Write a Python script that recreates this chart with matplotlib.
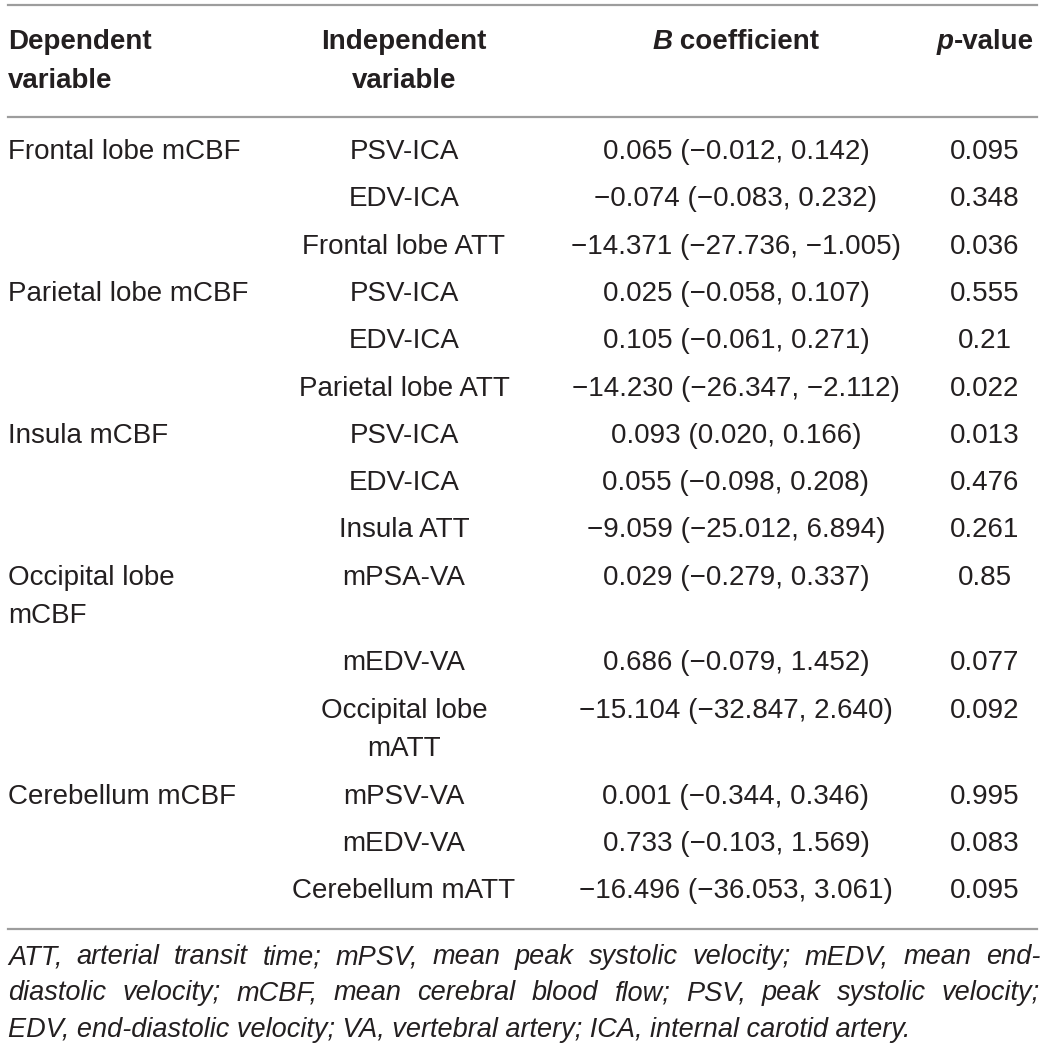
import matplotlib
matplotlib.use("Agg")
import matplotlib.pyplot as plt

# table content
dependent = [
    "Frontal lobe mCBF", "", "",
    "Parietal lobe mCBF", "", "",
    "Insula mCBF", "", "",
    "Occipital lobe\nmCBF", "", "",
    "Cerebellum mCBF", "", "",
]
independent = [
    "PSV-ICA", "EDV-ICA", "Frontal lobe ATT",
    "PSV-ICA", "EDV-ICA", "Parietal lobe ATT",
    "PSV-ICA", "EDV-ICA", "Insula ATT",
    "mPSA-VA", "mEDV-VA", "Occipital lobe\nmATT",
    "mPSV-VA", "mEDV-VA", "Cerebellum mATT",
]
b_coef = [0.065, -0.074, -14.371, 0.025, 0.105, -14.230, 0.093, 0.055, -9.059,
          0.029, 0.686, -15.104, 0.001, 0.733, -16.496]
ci_low = [-0.012, -0.083, -27.736, -0.058, -0.061, -26.347, 0.020, -0.098, -25.012,
          -0.279, -0.079, -32.847, -0.344, -0.103, -36.053]
ci_high = [0.142, 0.232, -1.005, 0.107, 0.271, -2.112, 0.166, 0.208, 6.894,
           0.337, 1.452, 2.640, 0.346, 1.569, 3.061]
p_values = ["0.095", "0.348", "0.036", "0.555", "0.21", "0.022", "0.013", "0.476", "0.261",
            "0.85", "0.077", "0.092", "0.995", "0.083", "0.095"]

footnote = ("ATT, arterial transit time; mPSV, mean peak systolic velocity; mEDV, mean end-\n"
            "diastolic velocity; mCBF, mean cerebral blood flow; PSV, peak systolic velocity;\n"
            "EDV, end-diastolic velocity; VA, vertebral artery; ICA, internal carotid artery.")

FONT = "Liberation Sans"
TXT = "#231f20"
RULE = "#9d9d9d"
FS = 20

W, H = 1045, 1052
fig = plt.figure(figsize=(W / 100, H / 100), dpi=100)
ax = fig.add_axes([0, 0, 1, 1])
ax.set_xlim(0, W)
ax.set_ylim(H, 0)
ax.axis("off")
fig.canvas.draw()
renderer = fig.canvas.get_renderer()


def fmt(v):
    return f"{v:.3f}".replace("-", "\u2212")


def text_width(s, size=FS, **kw):
    t = ax.text(0, 0, s, fontsize=size, family=FONT, **kw)
    bb = t.get_window_extent(renderer=renderer)
    t.remove()
    return bb.width


def put(x, y, s, ha="center", **kw):
    kw.setdefault("fontsize", FS)
    ax.text(x, y, s, family=FONT, color=TXT, va="center", ha=ha, **kw)


def segments(x, y, parts):
    # parts: list of (text, weight, style); centered at x
    widths = [text_width(s, fontweight=w, fontstyle=st) for s, w, st in parts]
    cx = x - sum(widths) / 2
    for (s, w, st), wd in zip(parts, widths):
        put(cx, y, s, ha="left", fontweight=w, fontstyle=st)
        cx += wd


x_dep, x_ind, x_b, x_p = 8, 404, 736, 985
line_gap = 38.5
row_gap = 47.3
rule_x = [8, 1037]

# rules
ax.plot(rule_x, [5, 5], color=RULE, lw=1.6)
ax.plot(rule_x, [117, 117], color=RULE, lw=1.6)

# header
hy = 42
put(x_dep, hy, "Dependent", ha="left", fontweight="bold")
put(x_dep, hy + line_gap, "variable", ha="left", fontweight="bold")
put(x_ind, hy, "Independent", fontweight="bold")
put(x_ind, hy + line_gap, "variable", fontweight="bold")
segments(x_b, hy, [("B", "bold", "italic"), (" coefficient", "bold", "normal")])
segments(x_p, hy, [("p", "bold", "italic"), ("-value", "bold", "normal")])

y = 152
for i in range(len(independent)):
    nlines = max(dependent[i].count("\n"), independent[i].count("\n")) + 1
    for k, ln in enumerate(dependent[i].split("\n")):
        if ln:
            put(x_dep, y + k * line_gap, ln, ha="left")
    for k, ln in enumerate(independent[i].split("\n")):
        put(x_ind, y + k * line_gap, ln)
    coef = f"{fmt(b_coef[i])} ({fmt(ci_low[i])}, {fmt(ci_high[i])})"
    put(x_b, y, coef)
    put(x_p, y, p_values[i])
    y += row_gap + (nlines - 1) * line_gap

ax.plot(rule_x, [929, 929], color=RULE, lw=1.6)

# justified footnote
FN = 19.5
lines = footnote.split("\n")
left, right = 8, 1040
for j, ln in enumerate(lines):
    fy = 957 + j * 36.5
    words = ln.split(" ")
    if j == len(lines) - 1:
        put(left, fy, ln, ha="left", fontsize=FN, fontstyle="italic")
        continue
    widths = [text_width(wd, size=FN, fontstyle="italic") for wd in words]
    gap = (right - left - sum(widths)) / (len(words) - 1)
    cx = left
    for wd, w in zip(words, widths):
        put(cx, fy, wd, ha="left", fontsize=FN, fontstyle="italic")
        cx += w + gap

fig.savefig("out.png", dpi=100)
